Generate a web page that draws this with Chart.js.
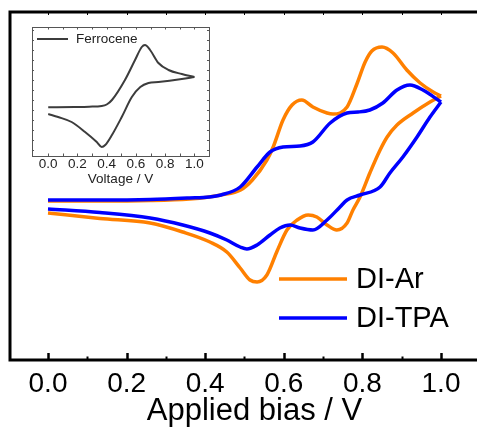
<!DOCTYPE html>
<html>
<head>
<meta charset="utf-8">
<script src="https://cdn.jsdelivr.net/npm/chart.js@4.4.1/dist/chart.umd.min.js"></script>
<style>
  html, body { margin: 0; padding: 0; background: #fff; overflow: hidden; }
  #wrap { position: relative; width: 477px; height: 428px; overflow: hidden; }
  #main { position: absolute; left: 0; top: 0; }
  #inset { position: absolute; left: 20px; top: 20px; }
</style>
</head>
<body>
<div id="wrap">
  <canvas id="main" width="499" height="428"></canvas>
  <canvas id="inset" width="200" height="172"></canvas>
</div>
<script>
// DI-Ar, forward (0 -> 1 V) and reverse (1 -> 0 V) scans, current in a.u.
const arFwdV = [0, 0.13, 0.26, 0.36, 0.41, 0.44, 0.49, 0.52, 0.557, 0.573, 0.598, 0.621, 0.646, 0.674, 0.71, 0.725, 0.761, 0.786, 0.807, 0.824, 0.85, 0.878, 0.913, 0.947, 0.98, 1.0];
const arFwdI = [0.4, 0.4, 0.45, 0.6, 0.8, 1.0, 1.5, 2.5, 4.5, 5.8, 8.5, 10.0, 10.5, 9.8, 9.2, 9.1, 9.8, 12.1, 14.3, 15.4, 15.8, 15.2, 13.5, 12.2, 11.3, 10.9];
const arRevV = [1.0, 0.972, 0.929, 0.888, 0.863, 0.845, 0.819, 0.794, 0.776, 0.761, 0.735, 0.71, 0.684, 0.662, 0.634, 0.608, 0.583, 0.557, 0.532, 0.514, 0.489, 0.455, 0.412, 0.343, 0.26, 0.132, 0];
const arRevI = [10.9, 10.3, 9.2, 8.0, 6.8, 5.5, 3.2, 0.8, -0.5, -1.8, -2.5, -2.0, -1.2, -1.0, -1.5, -2.5, -4.6, -7.0, -7.7, -7.5, -6.3, -4.7, -3.7, -2.7, -1.8, -1.35, -0.8];

// DI-TPA
const tpaFwdV = [0, 0.13, 0.26, 0.36, 0.41, 0.44, 0.489, 0.532, 0.565, 0.598, 0.641, 0.674, 0.718, 0.761, 0.789, 0.819, 0.852, 0.888, 0.921, 0.954, 1.0];
const tpaFwdI = [0.5, 0.5, 0.55, 0.7, 0.8, 1.0, 1.8, 3.8, 5.3, 5.8, 5.9, 6.3, 8.2, 9.2, 9.3, 9.5, 10.2, 11.5, 12.0, 11.5, 10.3];
const tpaRevV = [1.0, 0.972, 0.939, 0.903, 0.87, 0.845, 0.794, 0.761, 0.743, 0.71, 0.674, 0.641, 0.616, 0.59, 0.565, 0.532, 0.506, 0.489, 0.455, 0.412, 0.343, 0.26, 0.132, 0];
const tpaRevI = [10.3, 8.8, 6.8, 4.8, 3.2, 1.8, 1.0, 0.5, -0.2, -1.5, -2.5, -2.3, -2.0, -2.3, -3.0, -4.0, -4.4, -4.2, -3.5, -2.8, -2.0, -1.3, -0.75, -0.4];

// Ferrocene reference (inset)
const fcFwdV = [0, 0.18, 0.28, 0.366, 0.40, 0.436, 0.525, 0.594, 0.64, 0.662, 0.697, 0.754, 0.823, 0.914, 1.0];
const fcFwdI = [0.27, 0.3, 0.33, 0.4, 0.55, 1.0, 3.0, 5.0, 6.3, 6.5, 6.0, 4.7, 4.0, 3.6, 3.3];
const fcRevV = [1.0, 0.914, 0.754, 0.686, 0.63, 0.572, 0.503, 0.436, 0.39, 0.366, 0.332, 0.252, 0.16, 0.068, 0];
const fcRevI = [3.3, 3.1, 2.8, 2.7, 2.3, 1.3, -0.7, -2.5, -3.5, -3.7, -3.2, -2.2, -1.2, -0.7, -0.4];

const xTickVals = [0, 0.2, 0.4, 0.6, 0.8, 1.0];
const seriesNames = ['DI-Ar', 'DI-TPA'];
const seriesColors = ['#FF8000', '#0000FF'];
const insetName = 'Ferrocene';
const insetColor = '#3c3c3c';

const FONT = "'Liberation Sans', Arial, sans-serif";
const toPoints = (vs, is) => vs.map((v, i) => ({ x: v, y: is[i] }));

function line(label, vs, is, color, width) {
  return {
    label,
    data: toPoints(vs, is),
    showLine: true,
    borderColor: color,
    backgroundColor: color,
    borderWidth: width,
    pointRadius: 0,
    cubicInterpolationMode: 'monotone',
    fill: false
  };
}

const mainFrame = {
  id: 'mainFrame',
  afterDraw(chart) {
    const { ctx, chartArea: a, scales: { x } } = chart;
    ctx.save();
    ctx.strokeStyle = '#000';
    ctx.lineJoin = 'miter';
    ctx.lineWidth = 3;
    ctx.beginPath();
    ctx.moveTo(a.right, a.top);
    ctx.lineTo(a.left, a.top);
    ctx.lineTo(a.left, a.bottom);
    ctx.lineTo(a.right, a.bottom);
    ctx.stroke();

    for (let k = 0; k <= 11; k++) {
      const px = Math.round(x.getPixelForValue(k / 10)) + 0.5;
      const major = k % 2 === 0;
      ctx.lineWidth = major ? 2.5 : 2;
      ctx.beginPath();
      ctx.moveTo(px, a.bottom);
      ctx.lineTo(px, a.bottom - (major ? 7 : 3.5));
      ctx.stroke();
      ctx.lineWidth = 1;
      ctx.beginPath();
      ctx.moveTo(px, a.top);
      ctx.lineTo(px, a.top + 3);
      ctx.stroke();
    }

    // legend
    ctx.font = '29px ' + FONT;
    ctx.textBaseline = 'middle';
    ctx.fillStyle = '#000';
    const ly = [279, 318];
    seriesNames.forEach((name, i) => {
      ctx.strokeStyle = seriesColors[i];
      ctx.lineWidth = 3.5;
      ctx.beginPath();
      ctx.moveTo(279, ly[i]);
      ctx.lineTo(347, ly[i]);
      ctx.stroke();
      ctx.fillText(name, 356, ly[i] + 1);
    });
    ctx.restore();
  }
};

new Chart(document.getElementById('main'), {
  type: 'scatter',
  data: {
    datasets: [
      line(seriesNames[1], tpaFwdV, tpaFwdI, seriesColors[1], 3.5),
      line(seriesNames[1], tpaRevV, tpaRevI, seriesColors[1], 3.5),
      line(seriesNames[0], arFwdV, arFwdI, seriesColors[0], 3.5),
      line(seriesNames[0], arRevV, arRevI, seriesColors[0], 3.5)
    ]
  },
  options: {
    responsive: false,
    animation: false,
    devicePixelRatio: 1,
    events: [],
    layout: { padding: { left: 10, top: 12, right: 0, bottom: 0 } },
    plugins: { legend: { display: false }, tooltip: { enabled: false } },
    scales: {
      x: {
        type: 'linear',
        min: -0.0967,
        max: 1.1476,
        afterBuildTicks: (s) => { s.ticks = xTickVals.map(v => ({ value: v })); },
        afterFit: (s) => { s.height = 68; },
        grid: { display: false, drawTicks: false },
        border: { display: false },
        ticks: {
          autoSkip: false,
          maxRotation: 0,
          padding: 10,
          color: '#000',
          font: { family: FONT, size: 28, lineHeight: 1 },
          callback: (v) => Number(v).toFixed(1)
        },
        title: {
          display: true,
          text: 'Applied bias / V',
          color: '#000',
          padding: { top: 0, bottom: 1 },
          font: { family: FONT, size: 31, lineHeight: 1 }
        }
      },
      y: { display: false, min: -15.5, max: 19.3 }
    }
  },
  plugins: [mainFrame]
});

const insetFrame = {
  id: 'insetFrame',
  afterDraw(chart) {
    const { ctx, chartArea: a, scales: { x, y } } = chart;
    ctx.save();
    ctx.strokeStyle = '#555';
    ctx.lineWidth = 1;
    ctx.strokeRect(Math.round(a.left) + 0.5, Math.round(a.top) + 0.5, Math.round(a.right - a.left), Math.round(a.bottom - a.top));
    ctx.beginPath();
    for (let k = 0; k <= 10; k++) {
      const px = Math.round(x.getPixelForValue(k / 10)) + 0.5;
      ctx.moveTo(px, a.bottom); ctx.lineTo(px, a.bottom - 2.5);
      ctx.moveTo(px, a.top); ctx.lineTo(px, a.top + 2.5);
    }
    for (let k = -4; k <= 8; k++) {
      const py = Math.round(y.getPixelForValue(k)) + 0.5;
      ctx.moveTo(a.left, py); ctx.lineTo(a.left + 2, py);
      ctx.moveTo(a.right, py); ctx.lineTo(a.right - 2, py);
    }
    ctx.stroke();

    ctx.strokeStyle = insetColor;
    ctx.lineWidth = 2;
    ctx.beginPath();
    ctx.moveTo(17, 19);
    ctx.lineTo(48, 19);
    ctx.stroke();
    ctx.fillStyle = '#222';
    ctx.font = '13.5px ' + FONT;
    ctx.textBaseline = 'middle';
    ctx.fillText(insetName, 56, 19);
    ctx.restore();
  }
};

new Chart(document.getElementById('inset'), {
  type: 'scatter',
  data: {
    datasets: [
      line(insetName, fcFwdV, fcFwdI, insetColor, 2),
      line(insetName, fcRevV, fcRevI, insetColor, 2)
    ]
  },
  options: {
    responsive: false,
    animation: false,
    devicePixelRatio: 1,
    events: [],
    layout: { padding: { left: 12, top: 7, right: 11, bottom: 0 } },
    plugins: { legend: { display: false }, tooltip: { enabled: false } },
    scales: {
      x: {
        type: 'linear',
        min: -0.111,
        max: 1.10,
        afterBuildTicks: (s) => { s.ticks = xTickVals.map(v => ({ value: v })); },
        afterFit: (s) => { s.height = 36; },
        grid: { display: false, drawTicks: false },
        border: { display: false },
        ticks: {
          autoSkip: false,
          maxRotation: 0,
          padding: 2,
          color: '#222',
          font: { family: FONT, size: 13.5, lineHeight: 1 },
          callback: (v) => Number(v).toFixed(1)
        },
        title: {
          display: true,
          text: 'Voltage / V',
          color: '#222',
          padding: { top: 0, bottom: 6 },
          font: { family: FONT, size: 13.5, lineHeight: 1 }
        }
      },
      y: { display: false, min: -4.6, max: 8.3 }
    }
  },
  plugins: [insetFrame]
});
</script>
</body>
</html>
